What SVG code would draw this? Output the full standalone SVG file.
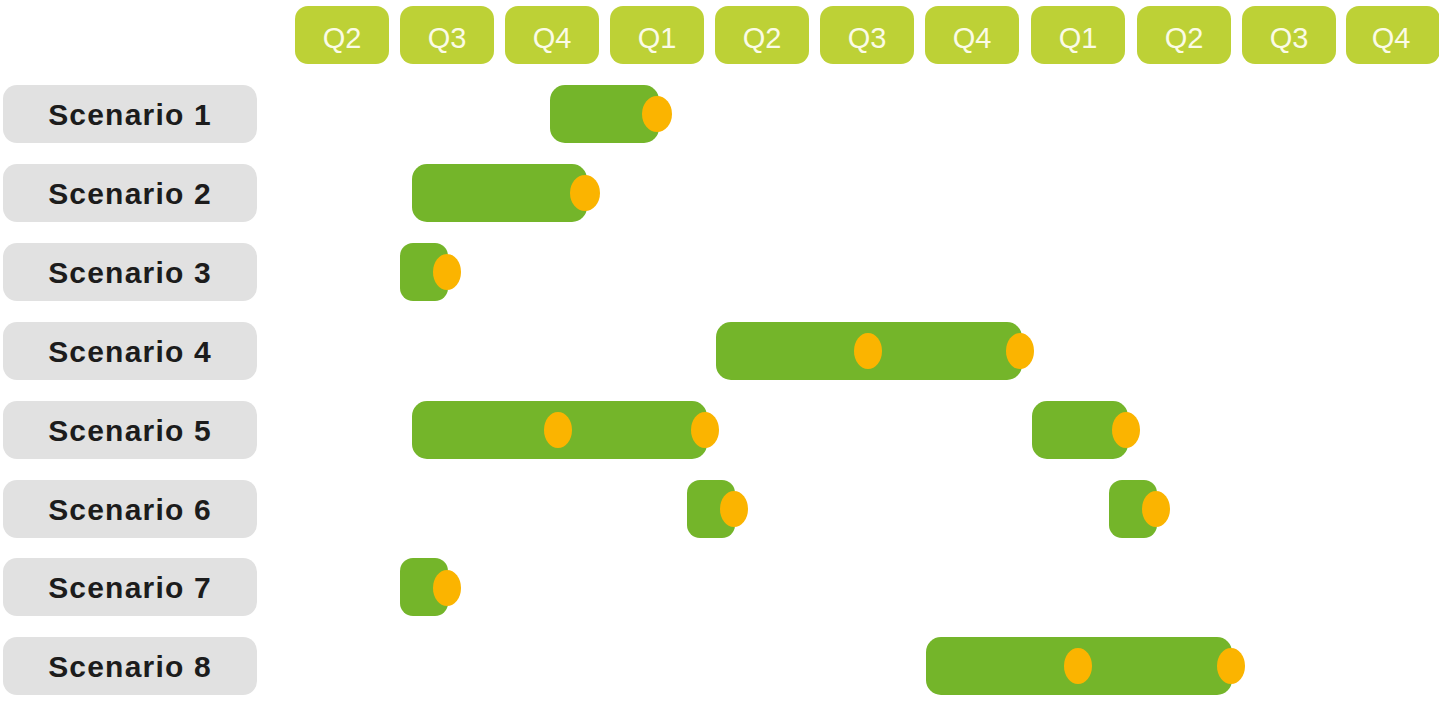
<svg xmlns="http://www.w3.org/2000/svg" width="1439" height="701" viewBox="0 0 1439 701">
<style>
.q rect{fill:#bdd136;}
.q text{fill:#fbfbe6;font-family:"Liberation Sans",Arial,sans-serif;font-size:29px;text-anchor:middle;}
.lbl rect{fill:#e1e1e1;}
.lbl text{fill:#1c1c1c;font-family:"Liberation Sans",Arial,sans-serif;font-size:30px;font-weight:bold;text-anchor:middle;letter-spacing:1.2px;}
.bar{fill:#74b52a;}
.ms{fill:#fbb400;}
</style>
<rect width="1439" height="701" fill="#ffffff"/>
<g id="header">
<g class="q" id="h1"><rect x="295" y="6" width="94" height="58" rx="13"/><text x="342" y="48">Q2</text></g>
<g class="q" id="h2"><rect x="400" y="6" width="94" height="58" rx="13"/><text x="447" y="48">Q3</text></g>
<g class="q" id="h3"><rect x="505" y="6" width="94" height="58" rx="13"/><text x="552" y="48">Q4</text></g>
<g class="q" id="h4"><rect x="610" y="6" width="94" height="58" rx="13"/><text x="657" y="48">Q1</text></g>
<g class="q" id="h5"><rect x="715" y="6" width="94" height="58" rx="13"/><text x="762" y="48">Q2</text></g>
<g class="q" id="h6"><rect x="820" y="6" width="94" height="58" rx="13"/><text x="867" y="48">Q3</text></g>
<g class="q" id="h7"><rect x="925" y="6" width="94" height="58" rx="13"/><text x="972" y="48">Q4</text></g>
<g class="q" id="h8"><rect x="1031" y="6" width="94" height="58" rx="13"/><text x="1078" y="48">Q1</text></g>
<g class="q" id="h9"><rect x="1137" y="6" width="94" height="58" rx="13"/><text x="1184" y="48">Q2</text></g>
<g class="q" id="h10"><rect x="1242" y="6" width="94" height="58" rx="13"/><text x="1289" y="48">Q3</text></g>
<g class="q" id="h11"><rect x="1346" y="6" width="94" height="58" rx="13"/><text x="1391" y="48">Q4</text></g>
</g>
<g id="labels">
<g class="lbl" id="s1"><rect x="3" y="85" width="254" height="58" rx="14"/><text x="130" y="125">Scenario 1</text></g>
<g class="lbl" id="s2"><rect x="3" y="164" width="254" height="58" rx="14"/><text x="130" y="204">Scenario 2</text></g>
<g class="lbl" id="s3"><rect x="3" y="243" width="254" height="58" rx="14"/><text x="130" y="283">Scenario 3</text></g>
<g class="lbl" id="s4"><rect x="3" y="322" width="254" height="58" rx="14"/><text x="130" y="362">Scenario 4</text></g>
<g class="lbl" id="s5"><rect x="3" y="401" width="254" height="58" rx="14"/><text x="130" y="441">Scenario 5</text></g>
<g class="lbl" id="s6"><rect x="3" y="480" width="254" height="58" rx="14"/><text x="130" y="520">Scenario 6</text></g>
<g class="lbl" id="s7"><rect x="3" y="558" width="254" height="58" rx="14"/><text x="130" y="598">Scenario 7</text></g>
<g class="lbl" id="s8"><rect x="3" y="637" width="254" height="58" rx="14"/><text x="130" y="677">Scenario 8</text></g>
</g>
<g id="bars">
<g id="b1"><rect class="bar" x="550" y="85" width="109" height="58" rx="15"/><ellipse class="ms" cx="657" cy="114" rx="15" ry="18"/></g>
<g id="b2"><rect class="bar" x="412" y="164" width="175" height="58" rx="15"/><ellipse class="ms" cx="585" cy="193" rx="15" ry="18"/></g>
<g id="b3"><rect class="bar" x="400" y="243" width="48" height="58" rx="13"/><ellipse class="ms" cx="447" cy="272" rx="14" ry="18"/></g>
<g id="b4"><rect class="bar" x="716" y="322" width="306" height="58" rx="15"/><ellipse class="ms" cx="868" cy="351" rx="14" ry="18"/><ellipse class="ms" cx="1020" cy="351" rx="14" ry="18"/></g>
<g id="b5"><rect class="bar" x="412" y="401" width="295" height="58" rx="15"/><ellipse class="ms" cx="558" cy="430" rx="14" ry="18"/><ellipse class="ms" cx="705" cy="430" rx="14" ry="18"/>
<rect class="bar" x="1032" y="401" width="96" height="58" rx="15"/><ellipse class="ms" cx="1126" cy="430" rx="14" ry="18"/></g>
<g id="b6"><rect class="bar" x="687" y="480" width="48" height="58" rx="13"/><ellipse class="ms" cx="734" cy="509" rx="14" ry="18"/>
<rect class="bar" x="1109" y="480" width="48" height="58" rx="13"/><ellipse class="ms" cx="1156" cy="509" rx="14" ry="18"/></g>
<g id="b7"><rect class="bar" x="400" y="558" width="48" height="58" rx="13"/><ellipse class="ms" cx="447" cy="588" rx="14" ry="18"/></g>
<g id="b8"><rect class="bar" x="926" y="637" width="306" height="58" rx="15"/><ellipse class="ms" cx="1078" cy="666" rx="14" ry="18"/><ellipse class="ms" cx="1231" cy="666" rx="14" ry="18"/></g>
</g>
</svg>
